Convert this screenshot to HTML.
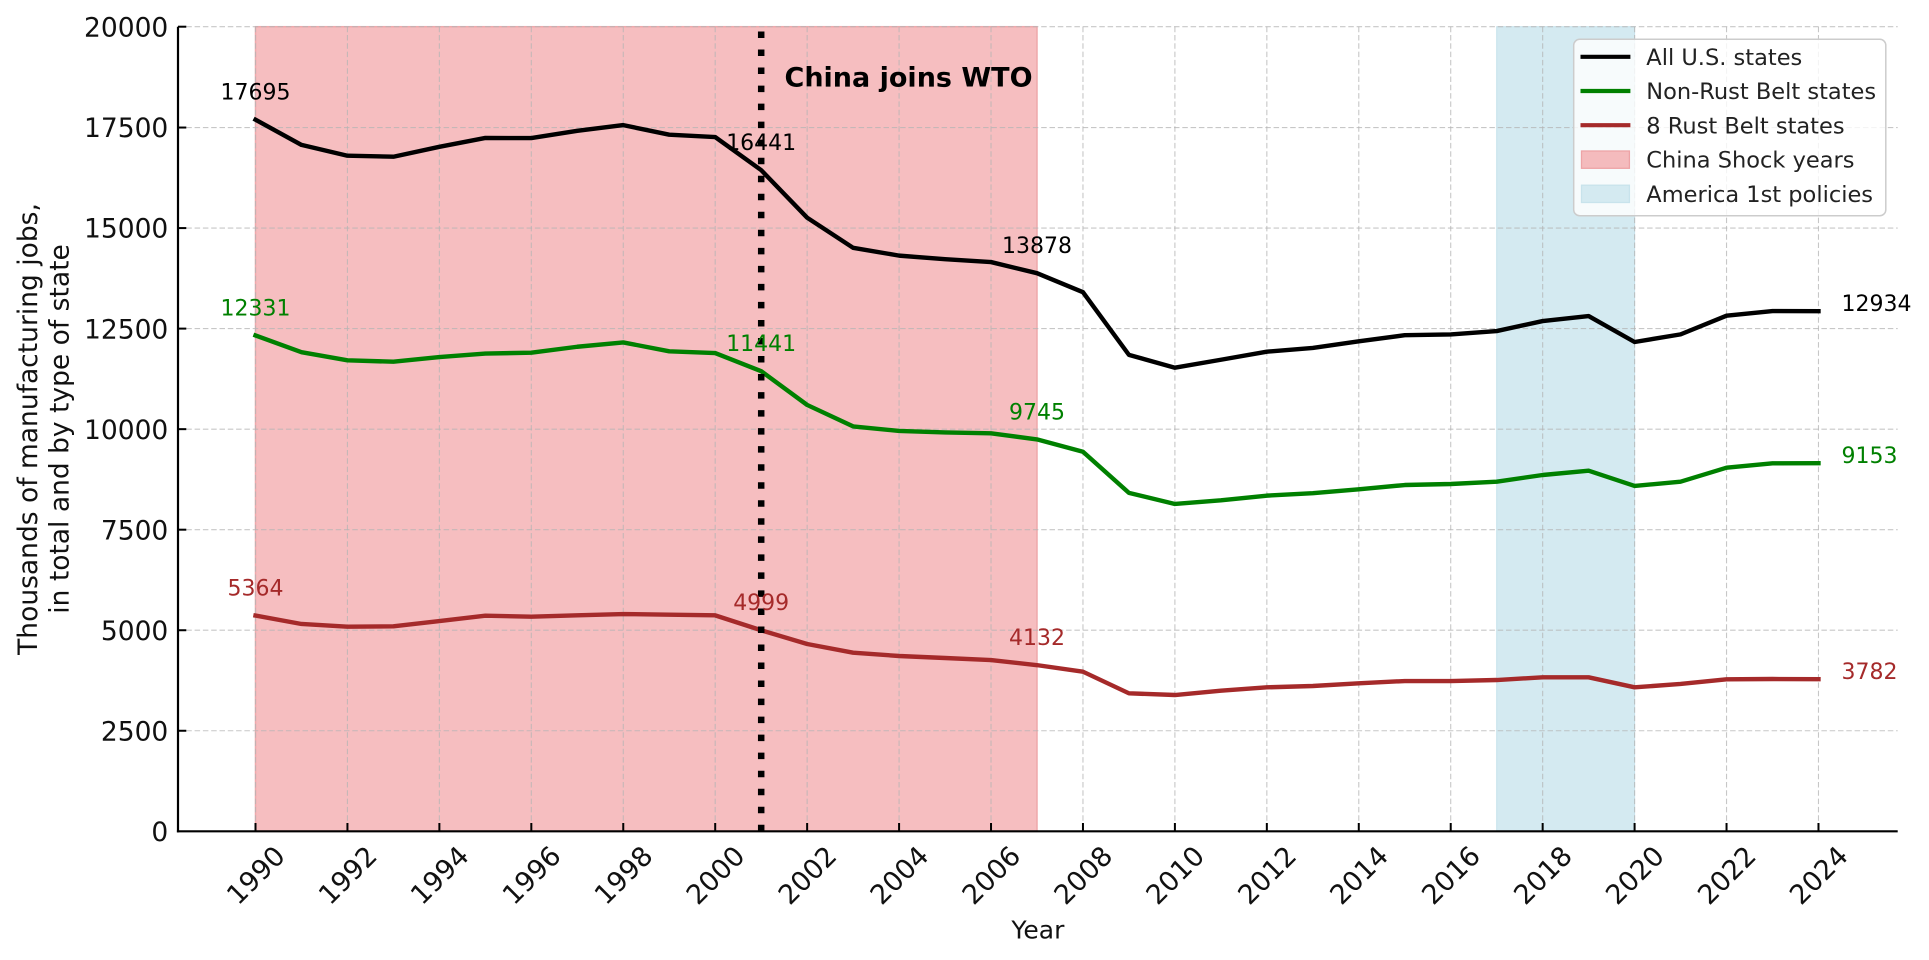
<!DOCTYPE html>
<html>
<head>
<meta charset="utf-8">
<style>
html,body{margin:0;padding:0;background:#fff;}
svg{display:block;}
text{font-family:"DejaVu Sans","Liberation Sans",sans-serif;}
</style>
</head>
<body>
<svg width="1929" height="960" viewBox="0 0 1929 960" xmlns="http://www.w3.org/2000/svg">
<rect x="0" y="0" width="1929" height="960" fill="#ffffff"/>

<!-- spans -->
<rect x="255.5" y="26.7" width="781.5" height="804.6" fill="#F6BEC0" stroke="#EFA8AB" stroke-width="1.5"/>
<rect x="1496.7" y="26.7" width="137.9" height="804.6" fill="#D4EAF1" stroke="#C6E2EB" stroke-width="1"/>

<!-- grid -->
<g stroke="#b4b4b4" stroke-opacity="0.75" stroke-width="1.1" stroke-dasharray="5.5 2.8" fill="none">
<line x1="255.5" y1="26.7" x2="255.5" y2="831.3"/>
<line x1="347.44" y1="26.7" x2="347.44" y2="831.3"/>
<line x1="439.38" y1="26.7" x2="439.38" y2="831.3"/>
<line x1="531.32" y1="26.7" x2="531.32" y2="831.3"/>
<line x1="623.26" y1="26.7" x2="623.26" y2="831.3"/>
<line x1="715.2" y1="26.7" x2="715.2" y2="831.3"/>
<line x1="807.14" y1="26.7" x2="807.14" y2="831.3"/>
<line x1="899.08" y1="26.7" x2="899.08" y2="831.3"/>
<line x1="991.02" y1="26.7" x2="991.02" y2="831.3"/>
<line x1="1082.96" y1="26.7" x2="1082.96" y2="831.3"/>
<line x1="1174.9" y1="26.7" x2="1174.9" y2="831.3"/>
<line x1="1266.84" y1="26.7" x2="1266.84" y2="831.3"/>
<line x1="1358.78" y1="26.7" x2="1358.78" y2="831.3"/>
<line x1="1450.72" y1="26.7" x2="1450.72" y2="831.3"/>
<line x1="1542.66" y1="26.7" x2="1542.66" y2="831.3"/>
<line x1="1634.6" y1="26.7" x2="1634.6" y2="831.3"/>
<line x1="1726.54" y1="26.7" x2="1726.54" y2="831.3"/>
<line x1="1818.48" y1="26.7" x2="1818.48" y2="831.3"/>
<line x1="178" y1="26.7" x2="1897.7" y2="26.7"/>
<line x1="178" y1="127.54" x2="1897.7" y2="127.54"/>
<line x1="178" y1="228.08" x2="1897.7" y2="228.08"/>
<line x1="178" y1="328.61" x2="1897.7" y2="328.61"/>
<line x1="178" y1="429.15" x2="1897.7" y2="429.15"/>
<line x1="178" y1="529.69" x2="1897.7" y2="529.69"/>
<line x1="178" y1="630.23" x2="1897.7" y2="630.23"/>
<line x1="178" y1="730.76" x2="1897.7" y2="730.76"/>
</g>

<!-- series -->
<g fill="none" stroke-width="4.4" stroke-linejoin="round" stroke-linecap="square">
<polyline stroke="#000000" points="255.50,119.70 301.47,144.91 347.44,155.73 393.41,156.73 439.38,146.80 485.35,137.95 531.32,138.11 577.29,130.79 623.26,125.12 669.23,134.70 715.20,137.07 761.17,170.13 807.14,217.66 853.11,247.82 899.08,255.62 945.05,259.16 991.02,262.06 1036.99,273.20 1082.96,292.17 1128.93,354.87 1174.90,367.70 1220.87,359.74 1266.84,351.66 1312.81,347.92 1358.78,341.28 1404.75,335.21 1450.72,334.48 1496.69,331.07 1542.66,321.05 1588.63,316.07 1634.60,342.00 1680.57,334.36 1726.54,315.70 1772.51,311.04 1818.48,311.16"/>
<polyline stroke="#008000" points="255.50,335.41 301.47,352.22 347.44,360.34 393.41,361.71 439.38,357.08 485.35,353.55 531.32,352.70 577.29,346.75 623.26,342.41 669.23,351.33 715.20,353.02 761.17,371.16 807.14,404.94 853.11,426.42 899.08,430.92 945.05,432.45 991.02,433.33 1036.99,439.40 1082.96,451.79 1128.93,492.85 1174.90,503.99 1220.87,500.33 1266.84,495.63 1312.81,493.21 1358.78,489.27 1404.75,485.01 1450.72,484.00 1496.69,481.67 1542.66,475.00 1588.63,470.69 1634.60,485.97 1680.57,481.67 1726.54,467.68 1772.51,463.33 1818.48,463.21"/>
<polyline stroke="#A52A2A" points="255.50,615.59 301.47,623.99 347.44,626.69 393.41,626.32 439.38,621.02 485.35,615.71 531.32,616.71 577.29,615.35 623.26,614.02 669.23,614.66 715.20,615.35 761.17,630.27 807.14,644.02 853.11,652.71 899.08,656.00 945.05,658.01 991.02,660.02 1036.99,665.13 1082.96,671.69 1128.93,693.32 1174.90,695.01 1220.87,690.71 1266.84,687.33 1312.81,686.00 1358.78,683.31 1404.75,681.02 1450.72,681.02 1496.69,680.01 1542.66,677.32 1588.63,677.32 1634.60,687.33 1680.57,683.99 1726.54,679.33 1772.51,679.01 1818.48,679.21"/>
</g>

<!-- WTO dotted line -->
<line x1="761.2" y1="831.3" x2="761.2" y2="26.7" stroke="#000" stroke-width="6.5" stroke-dasharray="6.5 11.53"/>

<!-- spines & ticks -->
<g stroke="#000" stroke-width="2.2" fill="none">
<line x1="178" y1="26.7" x2="178" y2="832.4"/>
<line x1="176.9" y1="831.3" x2="1897.7" y2="831.3"/>
</g>
<g stroke="#000" stroke-width="2" fill="none">
<line x1="255.5" y1="831.3" x2="255.5" y2="823"/>
<line x1="347.44" y1="831.3" x2="347.44" y2="823"/>
<line x1="439.38" y1="831.3" x2="439.38" y2="823"/>
<line x1="531.32" y1="831.3" x2="531.32" y2="823"/>
<line x1="623.26" y1="831.3" x2="623.26" y2="823"/>
<line x1="715.2" y1="831.3" x2="715.2" y2="823"/>
<line x1="807.14" y1="831.3" x2="807.14" y2="823"/>
<line x1="899.08" y1="831.3" x2="899.08" y2="823"/>
<line x1="991.02" y1="831.3" x2="991.02" y2="823"/>
<line x1="1082.96" y1="831.3" x2="1082.96" y2="823"/>
<line x1="1174.9" y1="831.3" x2="1174.9" y2="823"/>
<line x1="1266.84" y1="831.3" x2="1266.84" y2="823"/>
<line x1="1358.78" y1="831.3" x2="1358.78" y2="823"/>
<line x1="1450.72" y1="831.3" x2="1450.72" y2="823"/>
<line x1="1542.66" y1="831.3" x2="1542.66" y2="823"/>
<line x1="1634.6" y1="831.3" x2="1634.6" y2="823"/>
<line x1="1726.54" y1="831.3" x2="1726.54" y2="823"/>
<line x1="1818.48" y1="831.3" x2="1818.48" y2="823"/>
<line x1="178" y1="26.7" x2="186.3" y2="26.7"/>
<line x1="178" y1="127.54" x2="186.3" y2="127.54"/>
<line x1="178" y1="228.08" x2="186.3" y2="228.08"/>
<line x1="178" y1="328.61" x2="186.3" y2="328.61"/>
<line x1="178" y1="429.15" x2="186.3" y2="429.15"/>
<line x1="178" y1="529.69" x2="186.3" y2="529.69"/>
<line x1="178" y1="630.23" x2="186.3" y2="630.23"/>
<line x1="178" y1="730.76" x2="186.3" y2="730.76"/>
</g>

<!-- y tick labels -->
<g font-size="26.5" fill="#111" text-anchor="end">
<text x="168.3" y="36.4">20000</text>
<text x="168.3" y="137.2">17500</text>
<text x="168.3" y="237.7">15000</text>
<text x="168.3" y="338.3">12500</text>
<text x="168.3" y="438.8">10000</text>
<text x="168.3" y="539.3">7500</text>
<text x="168.3" y="639.9">5000</text>
<text x="168.3" y="740.4">2500</text>
<text x="168.3" y="841.0">0</text>
</g>

<!-- x tick labels -->
<g font-size="27" fill="#111" text-anchor="middle">
<text transform="translate(255.5,875) rotate(-45)" y="9.7">1990</text>
<text transform="translate(347.44,875) rotate(-45)" y="9.7">1992</text>
<text transform="translate(439.38,875) rotate(-45)" y="9.7">1994</text>
<text transform="translate(531.32,875) rotate(-45)" y="9.7">1996</text>
<text transform="translate(623.26,875) rotate(-45)" y="9.7">1998</text>
<text transform="translate(715.2,875) rotate(-45)" y="9.7">2000</text>
<text transform="translate(807.14,875) rotate(-45)" y="9.7">2002</text>
<text transform="translate(899.08,875) rotate(-45)" y="9.7">2004</text>
<text transform="translate(991.02,875) rotate(-45)" y="9.7">2006</text>
<text transform="translate(1082.96,875) rotate(-45)" y="9.7">2008</text>
<text transform="translate(1174.9,875) rotate(-45)" y="9.7">2010</text>
<text transform="translate(1266.84,875) rotate(-45)" y="9.7">2012</text>
<text transform="translate(1358.78,875) rotate(-45)" y="9.7">2014</text>
<text transform="translate(1450.72,875) rotate(-45)" y="9.7">2016</text>
<text transform="translate(1542.66,875) rotate(-45)" y="9.7">2018</text>
<text transform="translate(1634.6,875) rotate(-45)" y="9.7">2020</text>
<text transform="translate(1726.54,875) rotate(-45)" y="9.7">2022</text>
<text transform="translate(1818.48,875) rotate(-45)" y="9.7">2024</text>
</g>

<!-- axis labels -->
<text x="1037.9" y="938.3" font-size="25" fill="#111" text-anchor="middle">Year</text>
<g font-size="26.5" fill="#111" text-anchor="middle">
<text transform="translate(37,429) rotate(-90)">Thousands of manufacturing jobs,</text>
<text transform="translate(68.3,429) rotate(-90)">in total and by type of state</text>
</g>

<!-- annotation -->
<text x="784.5" y="86.5" font-size="27" font-weight="bold" fill="#000">China joins WTO</text>

<!-- data labels -->
<g font-size="22">
<g fill="#000">
<text x="255.5" y="99.6" text-anchor="middle">17695</text>
<text x="761.2" y="150.0" text-anchor="middle">16441</text>
<text x="1037" y="253.1" text-anchor="middle">13878</text>
<text x="1841.5" y="311.2">12934</text>
</g>
<g fill="#008000">
<text x="255.5" y="315.3" text-anchor="middle">12331</text>
<text x="761.2" y="351.1" text-anchor="middle">11441</text>
<text x="1037" y="419.3" text-anchor="middle">9745</text>
<text x="1841.5" y="463.2">9153</text>
</g>
<g fill="#A52A2A">
<text x="255.5" y="595.5" text-anchor="middle">5364</text>
<text x="761.2" y="610.2" text-anchor="middle">4999</text>
<text x="1037" y="645.0" text-anchor="middle">4132</text>
<text x="1841.5" y="679.2">3782</text>
</g>
</g>

<!-- legend -->
<rect x="1573.7" y="39.3" width="312.1" height="176.4" rx="6" ry="6" fill="#ffffff" fill-opacity="0.8" stroke="#cccccc" stroke-width="1.5"/>
<g stroke-width="4.2" fill="none">
<line x1="1580.5" y1="56.8" x2="1630.4" y2="56.8" stroke="#000"/>
<line x1="1580.5" y1="91.0" x2="1630.4" y2="91.0" stroke="#008000"/>
<line x1="1580.5" y1="125.2" x2="1630.4" y2="125.2" stroke="#A52A2A"/>
</g>
<rect x="1581.5" y="151" width="47.9" height="17.3" fill="#F4BBBD" stroke="#EDA3A6" stroke-width="1.3"/>
<rect x="1581.5" y="185.2" width="47.9" height="17.3" fill="#D4EAF1" stroke="#C8E3EC" stroke-width="1.3"/>
<g font-size="22.5" fill="#222">
<text x="1646.3" y="65.0">All U.S. states</text>
<text x="1646.3" y="99.2">Non-Rust Belt states</text>
<text x="1646.3" y="133.4">8 Rust Belt states</text>
<text x="1646.3" y="167.6">China Shock years</text>
<text x="1646.3" y="201.8">America 1st policies</text>
</g>
</svg>
</body>
</html>
